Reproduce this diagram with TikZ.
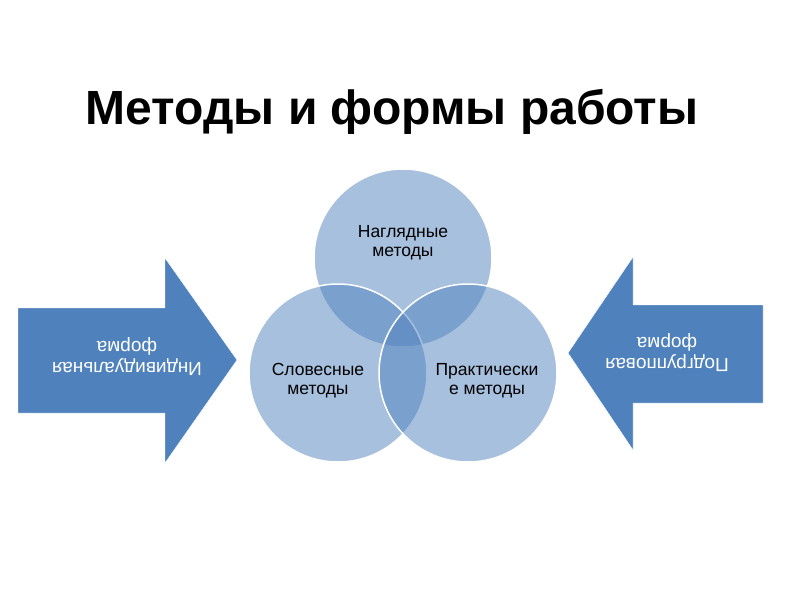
\documentclass[tikz,border=0pt]{standalone}
\usepackage{fontspec}
\setmainfont{Liberation Sans}
\usetikzlibrary{positioning}
\definecolor{bluemain}{HTML}{4F81BD}
\tikzset{every node/.append style={font=\rmfamily}}
\begin{document}
\begin{tikzpicture}[x=1pt,y=-1pt,
    venn/.style={circle,minimum size=178pt,inner sep=0pt,fill=bluemain,
      fill opacity=.5,draw=white,line width=1.5pt},
    venntext/.style={align=center,font=\fontsize{17.5}{19}\selectfont},
    arrowtext/.style={align=center,white,rotate=180,font=\fontsize{19}{21}\selectfont}]
  \useasboundingbox (0,0) rectangle (800,600);
  \node[font=\bfseries\fontsize{48}{50}\selectfont] (title) at (392,112) {Методы и формы работы};
  % side arrows
  \filldraw[bluemain,draw=white] (18,308) -- (165,308) -- (165,258) -- (237,360)
    -- (165,463) -- (165,413) -- (18,413) -- cycle;
  \filldraw[bluemain,draw=white] (763,305) -- (633,305) -- (633,257) -- (568,353)
    -- (633,450) -- (633,403) -- (763,403) -- cycle;
  \node[arrowtext] (indiv) at (127,357) {Индивидуальная\\форма};
  \node[arrowtext] (group) at (667,353) {Подгрупповая\\форма};
  % circles
  \node[venn] (visual) at (403,258) {};
  \node[venn] (verbal) at (338,373) {};
  \node[venn] (practic) at (468,373) {};
  \node[venntext] (visualtxt) at (403,243) {Наглядные\\методы};
  \node[venntext] (verbaltxt) at (318,381) {Словесные\\методы};
  \node[venntext] (practictxt) at (487,381) {Практически\\е методы};
\end{tikzpicture}
\end{document}
